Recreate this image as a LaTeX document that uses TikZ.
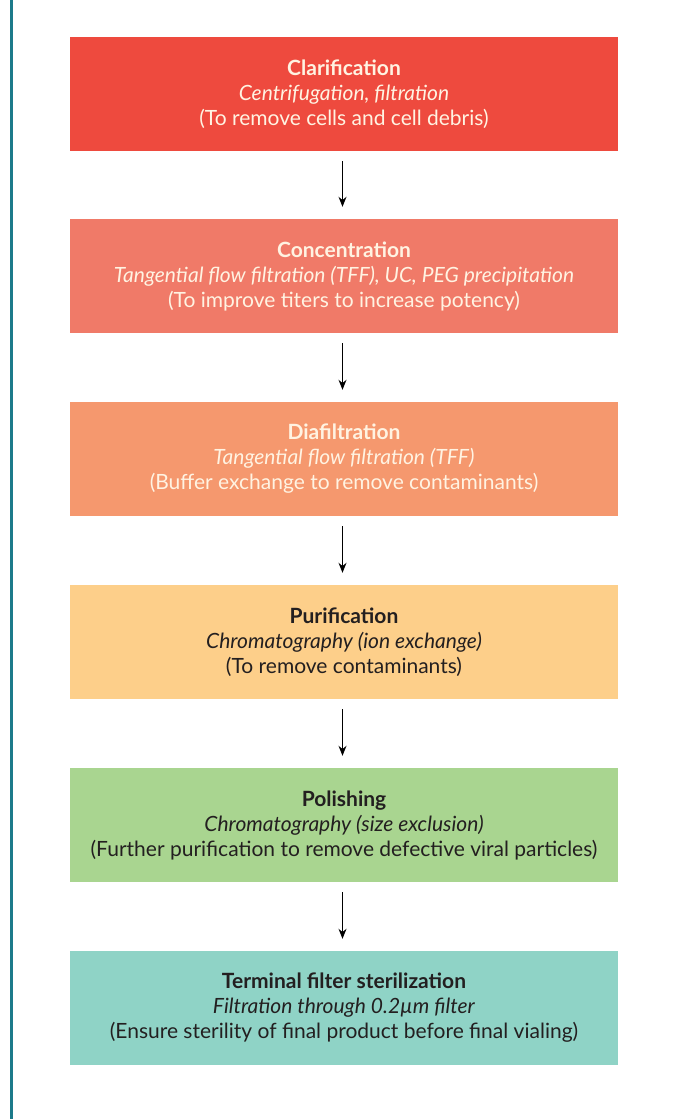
\documentclass[tikz,border=0pt]{standalone}
\usepackage{fontspec}
\setmainfont{Lato}
\usetikzlibrary{arrows.meta}
\definecolor{cA}{HTML}{EE4A3E}
\definecolor{cB}{HTML}{F07A68}
\definecolor{cC}{HTML}{F5986E}
\definecolor{cD}{HTML}{FDCF8A}
\definecolor{cE}{HTML}{A9D590}
\definecolor{cF}{HTML}{8FD3C6}
\definecolor{lite}{HTML}{FFF3E2}
\definecolor{darktext}{HTML}{231F20}
\definecolor{sidebar}{HTML}{1C7A8A}
\begin{document}
\begin{tikzpicture}[x=1pt,y=-1pt,
  stage/.style={minimum width=548pt,minimum height=114pt,inner sep=0pt,
    align=center,font=\fontsize{21}{25}\selectfont},
  flowarrow/.style={-{Stealth[length=10pt,width=8pt]},line width=1.2pt,black,
    shorten <=10pt,shorten >=12pt}]
\useasboundingbox (0,0) rectangle (674,1119);
\fill[white] (0,0) rectangle (674,1119);
\fill[sidebar] (10,0) rectangle (13,1119);
\node[stage,fill=cA,text=lite] (b1) at (344,94)
  {\textbf{Clarification}\\\textit{Centrifugation, filtration}\\(To remove cells and cell debris)};
\node[stage,fill=cB,text=lite] (b2) at (344,276)
  {\textbf{Concentration}\\\textit{Tangential flow filtration (TFF), UC, PEG precipitation}\\(To improve titers to increase potency)};
\node[stage,fill=cC,text=lite] (b3) at (344,459)
  {\textbf{Diafiltration}\\\textit{Tangential flow filtration (TFF)}\\(Buffer exchange to remove contaminants)};
\node[stage,fill=cD,text=darktext] (b4) at (344,642)
  {\textbf{Purification}\\\textit{Chromatography (ion exchange)}\\(To remove contaminants)};
\node[stage,fill=cE,text=darktext] (b5) at (344,825)
  {\textbf{Polishing}\\\textit{Chromatography (size exclusion)}\\(Further purification to remove defective viral particles)};
\node[stage,fill=cF,text=darktext] (b6) at (344,1008)
  {\textbf{Terminal filter sterilization}\\\textit{Filtration through 0.2µm filter}\\(Ensure sterility of final product before final vialing)};
\draw[flowarrow] ([xshift=-1.5pt]b1.south) -- ([xshift=-1.5pt]b2.north);
\draw[flowarrow] ([xshift=-1.5pt]b2.south) -- ([xshift=-1.5pt]b3.north);
\draw[flowarrow] ([xshift=-1.5pt]b3.south) -- ([xshift=-1.5pt]b4.north);
\draw[flowarrow] ([xshift=-1.5pt]b4.south) -- ([xshift=-1.5pt]b5.north);
\draw[flowarrow] ([xshift=-1.5pt]b5.south) -- ([xshift=-1.5pt]b6.north);
\end{tikzpicture}
\end{document}
